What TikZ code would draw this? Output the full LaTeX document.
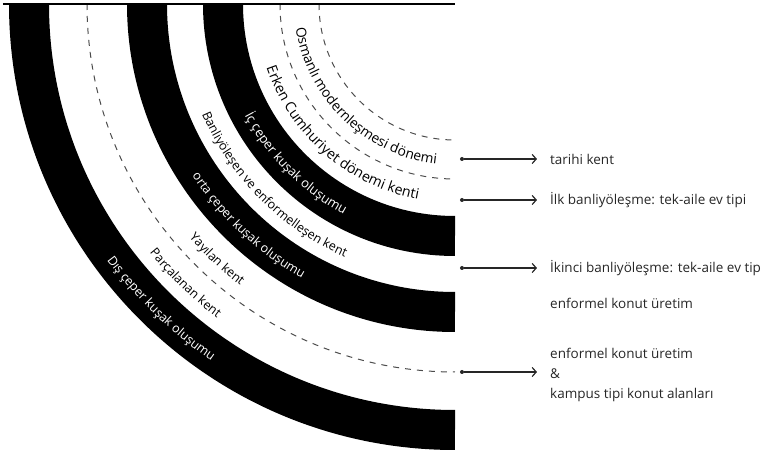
\documentclass[tikz,border=0pt]{standalone}
\usepackage{fontspec}
\setmainfont{Open Sans}
\usetikzlibrary{arrows.meta,decorations.text}

\begin{document}
\begin{tikzpicture}[
    band/.style={draw=black, line width=40pt},
    ring/.style={draw=black!70, line width=1pt, dash pattern=on 6pt off 6pt},
    arctext/.style n args={3}{decoration={text along path, text align=center, text color=#2,
        text={|\fontsize{#3}{15}\selectfont|#1}}, decorate},
    lbl/.style={anchor=west, inner sep=0pt, text=black!85, align=left, font=\fontsize{13.5}{20}\selectfont},
    dot/.style={circle, fill=black!85, inner sep=0pt, minimum size=4pt},
    arr/.style={-{Straight Barb[length=4pt,width=9pt]}, draw=black!85, line width=1.2pt, shorten >=13pt}
  ]
  \useasboundingbox (-455pt,-450pt) rectangle (306pt,4pt);
  \coordinate (o) at (0,0);

  % rings
  \draw[band] (180:232pt) arc[start angle=180, end angle=270, radius=232pt];
  \draw[band] (180:308pt) arc[start angle=180, end angle=270, radius=308pt];
  \draw[band] (180:426pt) arc[start angle=180, end angle=270, radius=426pt];
  \draw[ring] (180:136pt) arc[start angle=180, end angle=270, radius=136pt];
  \draw[ring] (180:175pt) arc[start angle=180, end angle=270, radius=175pt];
  \draw[ring] (180:368pt) arc[start angle=180, end angle=270, radius=368pt];
  \draw[line width=2pt] (-452pt,0) -- (o);

  % labels on the rings
  \path[arctext={Osmanlı modernleşmesi dönemi}{black}{13.8}] (181:161pt) arc[start angle=181, end angle=271, radius=161pt];
  \path[arctext={Erken Cumhuriyet dönemi kenti}{black}{14.2}] (184:199pt) arc[start angle=184, end angle=274, radius=199pt];
  \path[arctext={İç çeper kuşak oluşumu}{white}{13}] (180:238pt) arc[start angle=180, end angle=270, radius=238pt];
  \path[arctext={Banliyöleşen ve enformelleşen kent}{black}{12.5}] (180:276pt) arc[start angle=180, end angle=270, radius=276pt];
  \path[arctext={orta çeper kuşak oluşumu}{white}{12.5}] (182:314pt) arc[start angle=182, end angle=272, radius=314pt];
  \path[arctext={Yayılan kent}{black}{12.5}] (182:354pt) arc[start angle=182, end angle=272, radius=354pt];
  \path[arctext={Parçalanan kent}{black}{12.5}] (181:394pt) arc[start angle=181, end angle=271, radius=394pt];
  \path[arctext={Dış çeper kuşak oluşumu}{white}{12.5}] (181:432pt) arc[start angle=181, end angle=271, radius=432pt];

  % legend
  \node (d1) [dot] at (7pt,-155pt) {};
  \node (t1) [lbl] at (95pt,-155pt) {tarihi kent};
  \node (d2) [dot] at (7pt,-196pt) {};
  \node (t2) [lbl] at (95pt,-196pt) {İlk banliyöleşme: tek-aile ev tipi};
  \node (d3) [dot] at (7pt,-264pt) {};
  \node (t3) [lbl] at (95pt,-264pt) {İkinci banliyöleşme: tek-aile ev tipi};
  \node (t3b) [lbl] at (95pt,-299pt) {enformel konut üretim};
  \node (d4) [dot] at (7pt,-368pt) {};
  \node (t4) [lbl] at (95pt,-371pt) {enformel konut üretim\\\&\\kampus tipi konut alanları};
  \draw[arr] (d1) -- (t1);
  \draw[arr] (d2) -- (t2);
  \draw[arr] (d3) -- (t3);
  \draw[arr] (d4) -- (t4.west |- d4);
\end{tikzpicture}
\end{document}
